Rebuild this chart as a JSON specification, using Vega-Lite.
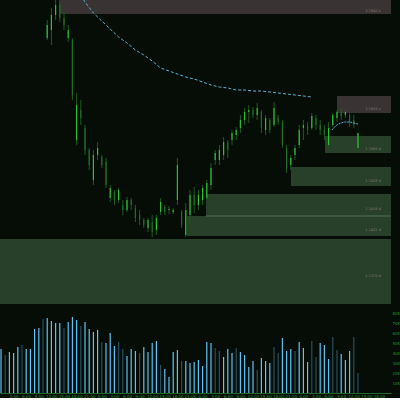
{
"$schema": "https://vega.github.io/schema/vega-lite/v6.json",
"background": "#060c06",
"padding": 0,
"spacing": 1,
"resolve": {"scale": {"color": "independent"}},
"config": {"view": {"stroke": null}, "axis": {"grid": false, "ticks": false, "domain": false, "labelColor": "#2f8f3a", "labelFontSize": 4, "labelFont": "DejaVu Sans", "labelPadding": 1}},
"datasets": {
"c": [
{"i":0,"o":380,"h":400,"l":375,"c":393,"vol":44,"vc":"a"},
{"i":1,"o":393,"h":405,"l":383,"c":387,"vol":38,"vc":"b"},
{"i":2,"o":387,"h":397,"l":375,"c":380,"vol":41,"vc":"a"},
{"i":3,"o":380,"h":390,"l":365,"c":370,"vol":40,"vc":"a"},
{"i":4,"o":370,"h":385,"l":360,"c":375,"vol":46,"vc":"a"},
{"i":5,"o":375,"h":380,"l":355,"c":360,"vol":48,"vc":"b"},
{"i":6,"o":360,"h":370,"l":345,"c":350,"vol":44,"vc":"a"},
{"i":7,"o":350,"h":360,"l":335,"c":355,"vol":44,"vc":"a"},
{"i":8,"o":353,"h":355,"l":330,"c":335,"vol":64,"vc":"a"},
{"i":9,"o":335,"h":345,"l":320,"c":325,"vol":65,"vc":"a"},
{"i":10,"o":325,"h":330,"l":308,"c":313,"vol":74,"vc":"b"},
{"i":11,"o":267,"h":285,"l":265,"c":280,"vol":75,"vc":"a"},
{"i":12,"o":275,"h":297,"l":260,"c":290,"vol":72,"vc":"a"},
{"i":13,"o":290,"h":305,"l":285,"c":300,"vol":70,"vc":"a"},
{"i":14,"o":300,"h":303,"l":283,"c":287,"vol":70,"vc":"a"},
{"i":15,"o":287,"h":293,"l":275,"c":280,"vol":65,"vc":"b"},
{"i":16,"o":267,"h":280,"l":263,"c":275,"vol":71,"vc":"a"},
{"i":17,"o":265,"h":267,"l":205,"c":210,"vol":76,"vc":"a"},
{"i":18,"o":165,"h":212,"l":160,"c":200,"vol":73,"vc":"a"},
{"i":19,"o":195,"h":205,"l":180,"c":187,"vol":67,"vc":"b"},
{"i":20,"o":177,"h":180,"l":150,"c":155,"vol":71,"vc":"a"},
{"i":21,"o":155,"h":157,"l":135,"c":140,"vol":64,"vc":"a"},
{"i":22,"o":125,"h":155,"l":120,"c":150,"vol":61,"vc":"a"},
{"i":23,"o":150,"h":163,"l":145,"c":157,"vol":63,"vc":"a"},
{"i":24,"o":148,"h":150,"l":137,"c":140,"vol":51,"vc":"b"},
{"i":25,"o":143,"h":147,"l":117,"c":120,"vol":50,"vc":"a"},
{"i":26,"o":107,"h":120,"l":103,"c":117,"vol":60,"vc":"a"},
{"i":27,"o":113,"h":115,"l":100,"c":105,"vol":47,"vc":"a"},
{"i":28,"o":105,"h":117,"l":102,"c":115,"vol":51,"vc":"b"},
{"i":29,"o":100,"h":105,"l":90,"c":95,"vol":44,"vc":"b"},
{"i":30,"o":95,"h":108,"l":93,"c":105,"vol":37,"vc":"a"},
{"i":31,"o":105,"h":107,"l":95,"c":100,"vol":44,"vc":"a"},
{"i":32,"o":97,"h":100,"l":83,"c":87,"vol":42,"vc":"a"},
{"i":33,"o":90,"h":95,"l":80,"c":85,"vol":40,"vc":"b"},
{"i":34,"o":85,"h":87,"l":77,"c":80,"vol":46,"vc":"a"},
{"i":35,"o":77,"h":87,"l":73,"c":85,"vol":41,"vc":"a"},
{"i":36,"o":83,"h":90,"l":68,"c":73,"vol":50,"vc":"a"},
{"i":37,"o":75,"h":90,"l":70,"c":87,"vol":52,"vc":"a"},
{"i":38,"o":93,"h":107,"l":90,"c":103,"vol":28,"vc":"b"},
{"i":39,"o":98,"h":100,"l":90,"c":93,"vol":24,"vc":"a"},
{"i":40,"o":95,"h":99,"l":91,"c":96,"vol":16,"vc":"a"},
{"i":41,"o":93,"h":97,"l":91,"c":95,"vol":41,"vc":"a"},
{"i":42,"o":105,"h":147,"l":100,"c":140,"vol":43,"vc":"a"},
{"i":43,"o":93,"h":95,"l":77,"c":80,"vol":32,"vc":"b"},
{"i":44,"o":70,"h":102,"l":68,"c":95,"vol":32,"vc":"a"},
{"i":45,"o":90,"h":115,"l":82,"c":110,"vol":30,"vc":"a"},
{"i":46,"o":110,"h":118,"l":92,"c":100,"vol":31,"vc":"a"},
{"i":47,"o":100,"h":115,"l":95,"c":110,"vol":33,"vc":"a"},
{"i":48,"o":105,"h":120,"l":100,"c":117,"vol":27,"vc":"a"},
{"i":49,"o":107,"h":125,"l":105,"c":122,"vol":51,"vc":"a"},
{"i":50,"o":120,"h":142,"l":115,"c":137,"vol":50,"vc":"a"},
{"i":51,"o":145,"h":155,"l":140,"c":152,"vol":45,"vc":"b"},
{"i":52,"o":145,"h":160,"l":140,"c":155,"vol":42,"vc":"b"},
{"i":53,"o":150,"h":168,"l":145,"c":163,"vol":36,"vc":"a"},
{"i":54,"o":163,"h":165,"l":147,"c":155,"vol":44,"vc":"a"},
{"i":55,"o":165,"h":175,"l":160,"c":172,"vol":40,"vc":"a"},
{"i":56,"o":170,"h":178,"l":165,"c":175,"vol":45,"vc":"b"},
{"i":57,"o":177,"h":190,"l":172,"c":185,"vol":41,"vc":"a"},
{"i":58,"o":185,"h":197,"l":180,"c":193,"vol":38,"vc":"a"},
{"i":59,"o":193,"h":200,"l":182,"c":195,"vol":26,"vc":"a"},
{"i":60,"o":195,"h":198,"l":187,"c":190,"vol":32,"vc":"a"},
{"i":61,"o":190,"h":202,"l":185,"c":197,"vol":23,"vc":"b"},
{"i":62,"o":193,"h":195,"l":172,"c":177,"vol":35,"vc":"a"},
{"i":63,"o":175,"h":190,"l":170,"c":187,"vol":32,"vc":"a"},
{"i":64,"o":185,"h":187,"l":172,"c":175,"vol":30,"vc":"a"},
{"i":65,"o":180,"h":203,"l":178,"c":197,"vol":46,"vc":"b"},
{"i":66,"o":187,"h":190,"l":180,"c":183,"vol":40,"vc":"b"},
{"i":67,"o":183,"h":185,"l":157,"c":160,"vol":55,"vc":"a"},
{"i":68,"o":157,"h":160,"l":132,"c":137,"vol":42,"vc":"a"},
{"i":69,"o":140,"h":150,"l":135,"c":147,"vol":44,"vc":"a"},
{"i":70,"o":150,"h":160,"l":145,"c":157,"vol":42,"vc":"b"},
{"i":71,"o":160,"h":180,"l":157,"c":175,"vol":51,"vc":"a"},
{"i":72,"o":177,"h":185,"l":165,"c":180,"vol":45,"vc":"a"},
{"i":73,"o":180,"h":183,"l":170,"c":175,"vol":31,"vc":"a"},
{"i":74,"o":177,"h":192,"l":175,"c":189,"vol":52,"vc":"b"},
{"i":75,"o":187,"h":190,"l":175,"c":180,"vol":36,"vc":"b"},
{"i":76,"o":180,"h":185,"l":170,"c":175,"vol":50,"vc":"a"},
{"i":77,"o":175,"h":180,"l":165,"c":170,"vol":48,"vc":"a"},
{"i":78,"o":160,"h":183,"l":157,"c":177,"vol":34,"vc":"a"},
{"i":79,"o":180,"h":192,"l":178,"c":190,"vol":56,"vc":"b"},
{"i":80,"o":187,"h":195,"l":183,"c":193,"vol":43,"vc":"b"},
{"i":81,"o":193,"h":197,"l":185,"c":189,"vol":39,"vc":"a"},
{"i":82,"o":190,"h":195,"l":187,"c":193,"vol":33,"vc":"a"},
{"i":83,"o":190,"h":192,"l":178,"c":183,"vol":42,"vc":"a"},
{"i":84,"o":185,"h":190,"l":177,"c":180,"vol":56,"vc":"b"},
{"i":85,"o":157,"h":172,"l":155,"c":172,"vol":20,"vc":"b"}
],
"z": [
{"x0":13.81,"x1":92.86,"y0":305,"y1":291,"k":"s","t":"1.1842 s"},
{"x0":80,"x1":92.86,"y0":209,"y1":192,"k":"s","t":"1.1655 s"},
{"x0":77.14,"x1":92.86,"y0":169,"y1":152,"k":"d","t":"1.1593 d"},
{"x0":69.05,"x1":92.86,"y0":138,"y1":119,"k":"d","t":"1.1528 d"},
{"x0":48.81,"x1":92.86,"y0":111,"y1":89,"k":"d","t":"1.1476 d"},
{"x0":44.29,"x1":92.86,"y0":89,"y1":69,"k":"d","t":"1.1431 d"},
{"x0":-0.24,"x1":92.86,"y0":66,"y1":1,"k":"d","t":"1.1370 d"}
],
"ln": [{"x0":48.81,"x1":92.86,"y":89}],
"ma": [
{"i":19,"m":310},{"i":20,"m":303},{"i":22,"m":292},{"i":24,"m":284},{"i":26,"m":276},{"i":28,"m":268},{"i":30,"m":262},{"i":32,"m":255},{"i":34,"m":250},{"i":36,"m":244},{"i":38,"m":237},{"i":40,"m":234},{"i":42,"m":231},{"i":44,"m":228},{"i":46,"m":226},{"i":48,"m":223},{"i":50,"m":220},{"i":52,"m":218},{"i":54,"m":217},{"i":56,"m":215},{"i":58,"m":215},{"i":60,"m":214},{"i":62,"m":214},{"i":64,"m":213},{"i":66,"m":212},{"i":68,"m":211},{"i":70,"m":210},{"i":72,"m":209},{"i":74,"m":208}
],
"ma2": [
{"i":78.8,"m":175},{"i":80,"m":180},{"i":81,"m":182},{"i":82,"m":183},{"i":83,"m":183},{"i":84,"m":182},{"i":85,"m":181}
]
},
"vconcat": [
{
"width": 391, "height": 305,
"layer": [
{"data": {"name": "z"}, "mark": {"type": "rect", "clip": true},
 "encoding": {
  "x": {"field": "x0", "type": "quantitative", "scale": {"domain": [-0.24, 92.86], "nice": false, "zero": false, "padding": 0}, "axis": null},
  "x2": {"field": "x1"},
  "y": {"field": "y0", "type": "quantitative", "scale": {"domain": [0, 305], "nice": false, "zero": false},
        "axis": {"orient": "right", "title": null, "values": [293,274,255,236,217,198,179,160,141,122,103,84,65,46,27,8], "labelExpr": "format(datum.value/100, '.2f')", "labelBaseline": "middle"}},
  "y2": {"field": "y1"},
  "color": {"field": "k", "type": "nominal", "scale": {"domain": ["s", "d"], "range": ["#3a3333", "#283f29"]}, "legend": null}
 }},
{"data": {"name": "ln"}, "mark": {"type": "rule", "color": "#52725a", "strokeWidth": 1},
 "encoding": {"x": {"field": "x0", "type": "quantitative", "axis": null}, "x2": {"field": "x1"}, "y": {"field": "y", "type": "quantitative", "axis": null}}},
{"data": {"name": "z"}, "transform": [{"calculate": "(datum.y0 + datum.y1) / 2", "as": "ym"}],
 "mark": {"type": "text", "color": "#7d7d7d", "fontSize": 3.5, "font": "DejaVu Sans", "dy": 4, "clip": true},
 "encoding": {"x": {"datum": 88.6, "type": "quantitative", "axis": null}, "y": {"field": "ym", "type": "quantitative", "axis": null}, "text": {"field": "t"}}},
{"data": {"name": "c"}, "mark": {"type": "rule", "color": "#1c5c22", "strokeWidth": 1, "clip": true},
 "encoding": {"x": {"field": "i", "type": "quantitative", "axis": null}, "y": {"field": "l", "type": "quantitative", "axis": null}, "y2": {"field": "h"}}},
{"data": {"name": "c"}, "mark": {"type": "bar", "size": 1.2, "clip": true},
 "encoding": {"x": {"field": "i", "type": "quantitative", "axis": null}, "y": {"field": "o", "type": "quantitative", "axis": null}, "y2": {"field": "c"},
  "color": {"condition": {"test": "datum.c > datum.o", "value": "#2fbf35"}, "value": "#1f6e26"}}},
{"data": {"name": "ma"}, "mark": {"type": "line", "color": "#5ab4dc", "strokeWidth": 1, "strokeDash": [3, 2], "clip": true},
 "encoding": {"x": {"field": "i", "type": "quantitative", "axis": null}, "y": {"field": "m", "type": "quantitative", "axis": null}}},
{"data": {"name": "ma2"}, "mark": {"type": "line", "color": "#5ab4dc", "strokeWidth": 1, "strokeDash": [2, 1], "interpolate": "monotone", "clip": true},
 "encoding": {"x": {"field": "i", "type": "quantitative", "axis": null}, "y": {"field": "m", "type": "quantitative", "axis": null}}}
]
},
{
"width": 391, "height": 87,
"data": {"name": "c"},
"mark": {"type": "bar", "size": 1.2},
"encoding": {
 "x": {"field": "i", "type": "quantitative", "scale": {"domain": [-0.24, 92.86], "nice": false, "zero": false, "padding": 0},
       "axis": {"orient": "bottom", "title": null, "domain": true, "domainColor": "#1f6b2c", "domainWidth": 1, "values": [3,6,9,12,15,18,21,24,27,30,33,36,39,42,45,48,51,54,57,60,63,66,69,72,75,78,81,84,87,90], "labelExpr": "(datum.value % 24) + ':00'", "labelPadding": 1, "labelFlush": true}},
 "y": {"field": "vol", "type": "quantitative", "scale": {"domain": [0, 87], "nice": false},
       "axis": {"orient": "right", "title": null, "values": [10,20,30,40,50,60,70,80], "labelExpr": "datum.value + 'K'", "labelBaseline": "middle"}},
 "color": {"field": "vc", "type": "nominal", "scale": {"domain": ["a", "b"], "range": ["#5fc4f5", "#27505e"]}, "legend": null}
}
}
]
}
